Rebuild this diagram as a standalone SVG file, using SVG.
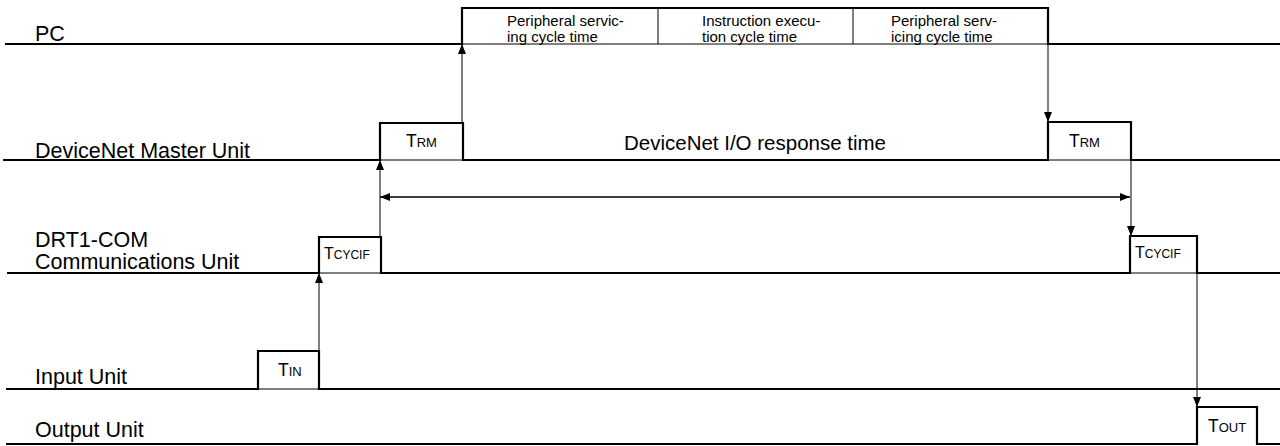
<svg xmlns="http://www.w3.org/2000/svg" width="1280" height="446" viewBox="0 0 1280 446">
<style>
.sig{fill:none;stroke:#000;stroke-width:2.2;stroke-linejoin:miter}
.thin{fill:none;stroke:#000;stroke-width:1}
.lbl{font-family:"Liberation Sans",Arial,sans-serif;font-size:21.5px;fill:#000}
.small{font-family:"Liberation Sans",Arial,sans-serif;font-size:15px;fill:#000}
.t{font-family:"Liberation Sans",Arial,sans-serif;font-size:17.5px;fill:#000}
.sub{font-size:13px}
.arr{fill:none;stroke:#000;stroke-width:1}
</style>
<defs>
<marker id="ah" markerUnits="userSpaceOnUse" markerWidth="10" markerHeight="8" viewBox="0 0 10 8" refX="10" refY="4" orient="auto">
<path d="M0,0 L10,4 L0,8 Z" fill="#000"/>
</marker>
</defs>
<g id="pc">
<text class="lbl" x="35" y="41">PC</text>
<path class="sig" d="M5,44 H462 V8 H1048 V44 H1280"/>
<path class="thin" d="M462,44 H1048 M658,8 V44 M853,8 V44"/>
<text class="small" x="507" y="26">Peripheral servic-</text>
<text class="small" x="507" y="41.5">ing cycle time</text>
<text class="small" x="702" y="26">Instruction execu-</text>
<text class="small" x="702" y="41.5">tion cycle time</text>
<text class="small" x="891" y="26">Peripheral serv-</text>
<text class="small" x="891" y="41.5">icing cycle time</text>
</g>
<g id="master">
<text class="lbl" x="35" y="158">DeviceNet Master Unit</text>
<path class="sig" d="M3,160 H380 V123 H463 V160 H1048 V122 H1131 V160 H1280"/>
<path class="thin" d="M380,160 H463 M1048,160 H1131"/>
<text class="t" x="406" y="147">T<tspan class="sub">RM</tspan></text>
<text class="t" x="1069" y="147">T<tspan class="sub">RM</tspan></text>
<text class="lbl" x="755" y="150" text-anchor="middle" style="font-size:20.5px">DeviceNet I/O response time</text>
</g>
<g id="drt1">
<text class="lbl" x="35" y="247">DRT1-COM</text>
<text class="lbl" x="35" y="269">Communications Unit</text>
<path class="sig" d="M7,273 H319 V237 H381 V273 H1130 V236 H1197 V273 H1280"/>
<path class="thin" d="M319,273 H381 M1130,273 H1197"/>
<text class="t" x="324" y="259" style="font-size:16px">T<tspan style="font-size:12px">CYCIF</tspan></text>
<text class="t" x="1135" y="258" style="font-size:16px">T<tspan style="font-size:12px">CYCIF</tspan></text>
</g>
<g id="input">
<text class="lbl" x="35" y="384">Input Unit</text>
<path class="sig" d="M6,389 H258 V351 H319 V389 H1280"/>
<path class="thin" d="M258,389 H319"/>
<text class="t" x="278" y="376">T<tspan class="sub">IN</tspan></text>
</g>
<g id="output">
<text class="lbl" x="35" y="437">Output Unit</text>
<path class="sig" d="M6,444 H1197 V407 H1257 V444 H1280"/>
<text class="t" x="1208" y="432">T<tspan class="sub">OUT</tspan></text>
</g>
<g id="connectors">
<line class="arr" x1="462" y1="123" x2="462" y2="44" marker-end="url(#ah)"/>
<line class="arr" x1="1048" y1="44" x2="1048" y2="122" marker-end="url(#ah)"/>
<line class="arr" x1="380" y1="237" x2="380" y2="160" marker-end="url(#ah)"/>
<line class="arr" x1="1131" y1="160" x2="1131" y2="236" marker-end="url(#ah)"/>
<line class="arr" x1="1130" y1="197" x2="380" y2="197" marker-end="url(#ah)"/>
<line class="arr" x1="380" y1="197" x2="1130" y2="197" marker-end="url(#ah)"/>
<line class="arr" x1="319" y1="351" x2="319" y2="273" marker-end="url(#ah)"/>
<line class="arr" x1="1197" y1="273" x2="1197" y2="407" marker-end="url(#ah)"/>
</g>
</svg>
